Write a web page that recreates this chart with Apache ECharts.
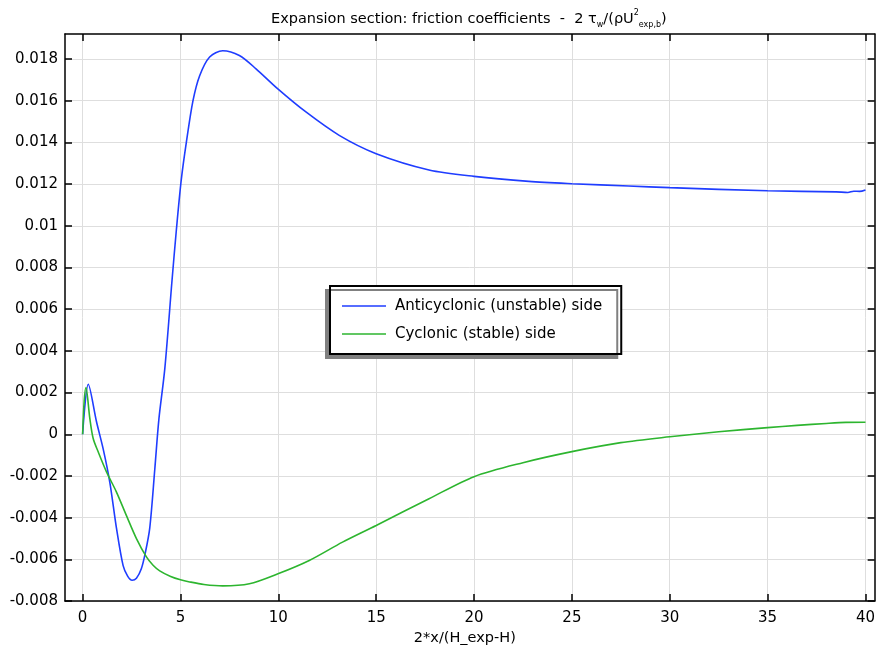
<!DOCTYPE html>
<html>
<head>
<meta charset="utf-8">
<script src="https://cdn.jsdelivr.net/npm/echarts@6/dist/echarts.min.js"></script>
<style>
  html, body { margin: 0; padding: 0; background: #fff; }
  #chart { width: 878px; height: 651px; }
</style>
</head>
<body>
<div id="chart"></div>
<script>
// axis ticks
var xTicks = [0, 5, 10, 15, 20, 25, 30, 35, 40];
var yTicks = [-0.008, -0.006, -0.004, -0.002, 0, 0.002, 0.004, 0.006, 0.008, 0.01, 0.012, 0.014, 0.016, 0.018];

// anticyclonic (unstable) side
var blueX = [0, 0.29, 0.71, 1.05, 1.39, 1.73, 2.07, 2.3, 2.53, 2.75, 3.0, 3.2, 3.43, 3.69, 3.9, 4.2, 4.57, 4.79, 5.04, 5.3, 5.64, 5.98, 6.49, 7.16, 8.01, 8.86, 9.96, 11.41, 13.11, 15, 17.7, 20, 22.8, 25, 27.9, 30, 35, 38.5, 39.1, 39.4, 39.7, 40];
var blueY = [0, 0.0024, 0.0006, -0.0007, -0.0023, -0.0045, -0.0063, -0.0068, -0.0070, -0.0069, -0.00645, -0.0057, -0.0045, -0.00165, 0.00075, 0.00315, 0.0074, 0.0098, 0.0122, 0.0140, 0.0160, 0.0172, 0.0181, 0.0184, 0.01817, 0.01753, 0.01658, 0.01546, 0.01434, 0.01346, 0.01268, 0.01237, 0.01213, 0.01202, 0.01191, 0.01183, 0.01168, 0.01163, 0.01160, 0.01166, 0.01165, 0.01172];

// cyclonic (stable) side
var greenX = [0, 0.08, 0.17, 0.37, 0.54, 0.8, 1.22, 1.73, 2.24, 2.75, 3.26, 3.6, 3.94, 4.5, 5.0, 5.47, 6.2, 7.16, 8.52, 9.98, 11.58, 13.28, 15, 17.7, 20, 22.5, 25, 27.5, 30, 32.5, 35, 36.5, 38, 39, 40];
var greenY = [0, 0.0016, 0.00224, 0.00075, -0.0002, -0.00085, -0.0018, -0.00277, -0.0039, -0.005, -0.00588, -0.00628, -0.00655, -0.00682, -0.00698, -0.00708, -0.0072, -0.00727, -0.00717, -0.00669, -0.00605, -0.00517, -0.00437, -0.00309, -0.00203, -0.00136, -0.00083, -0.0004, -0.00012, 0.00012, 0.00032, 0.00043, 0.00052, 0.00057, 0.00058];

var chart = echarts.init(document.getElementById('chart'));

var font = 'DejaVu Sans';
var frameLine = { show: true, onZero: false, lineStyle: { color: '#000', width: 1.5 } };
function pairs(xs, ys) {
  return xs.map(function (x, i) { return [x, ys[i]]; });
}

var option = {
  animation: false,
  backgroundColor: '#fff',
  title: {
    text: 'Expansion section: friction coefficients  -  2 τ{sub|w}/(ρU{sup|2}{sub|exp,b})',
    left: 266,
    top: 4,
    textStyle: {
      fontFamily: font, fontSize: 14.5, fontWeight: 'normal', color: '#000', lineHeight: 20,
      rich: {
        sub: { fontFamily: font, fontSize: 8, verticalAlign: 'bottom', color: '#000' },
        sup: { fontFamily: font, fontSize: 8, verticalAlign: 'top', color: '#000' }
      }
    }
  },
  legend: {
    orient: 'vertical',
    left: 330,
    top: 286,
    padding: [11, 19, 11, 12],
    itemGap: 10,
    itemWidth: 44,
    itemHeight: 1.6,
    icon: 'rect',
    backgroundColor: '#fff',
    borderColor: '#000',
    borderWidth: 2,
    borderRadius: 0,
    shadowColor: '#808080',
    shadowBlur: 0,
    shadowOffsetX: -4,
    shadowOffsetY: 4,
    textStyle: { fontFamily: font, fontSize: 15, color: '#000', padding: [0, 0, 0, 4], lineHeight: 18 },
    data: ['Anticyclonic (unstable) side', 'Cyclonic (stable) side']
  },
  grid: { left: 65, right: 1, top: 34, bottom: 47 },
  xAxis: [{
    type: 'value',
    min: -0.9,
    max: 40.47,
    name: '2*x/(H_exp-H)',
    nameLocation: 'middle',
    nameGap: 24,
    nameTextStyle: { fontFamily: font, fontSize: 14.5, color: '#000', padding: [0, 10, 0, 0] },
    axisLine: frameLine,
    axisTick: { show: true, inside: true, length: 7, customValues: xTicks, lineStyle: { color: '#000', width: 1.5 } },
    axisLabel: { show: true, customValues: xTicks, margin: 10, fontFamily: font, fontSize: 15, color: '#000' },
    splitLine: { show: true, lineStyle: { color: '#dedede', width: 1 } }
  }, {
    type: 'value',
    position: 'top',
    min: -0.9,
    max: 40.47,
    axisLine: frameLine,
    axisTick: { show: true, inside: true, length: 7, customValues: xTicks, lineStyle: { color: '#000', width: 1.5 } },
    axisLabel: { show: false },
    splitLine: { show: false }
  }],
  yAxis: [{
    type: 'value',
    min: -0.008,
    max: 0.0192,
    axisLine: frameLine,
    axisTick: { show: true, inside: true, length: 7, customValues: yTicks, lineStyle: { color: '#000', width: 1.5 } },
    axisLabel: { show: true, customValues: yTicks, margin: 7, fontFamily: font, fontSize: 15, color: '#000' },
    splitLine: { show: true, lineStyle: { color: '#dedede', width: 1 } }
  }, {
    type: 'value',
    position: 'right',
    min: -0.008,
    max: 0.0192,
    axisLine: frameLine,
    axisTick: { show: true, inside: true, length: 7, customValues: yTicks, lineStyle: { color: '#000', width: 1.5 } },
    axisLabel: { show: false },
    splitLine: { show: false }
  }],
  series: [{
    name: 'Anticyclonic (unstable) side',
    type: 'line',
    xAxisIndex: 0,
    yAxisIndex: 0,
    symbol: 'none',
    smooth: 0.3,
    lineStyle: { color: '#1f3dff', width: 1.6 },
    itemStyle: { color: '#1f3dff' },
    data: pairs(blueX, blueY)
  }, {
    name: 'Cyclonic (stable) side',
    type: 'line',
    xAxisIndex: 0,
    yAxisIndex: 0,
    symbol: 'none',
    smooth: 0.3,
    lineStyle: { color: '#2db52f', width: 1.6 },
    itemStyle: { color: '#2db52f' },
    data: pairs(greenX, greenY)
  }]
};

chart.setOption(option);
</script>
</body>
</html>
